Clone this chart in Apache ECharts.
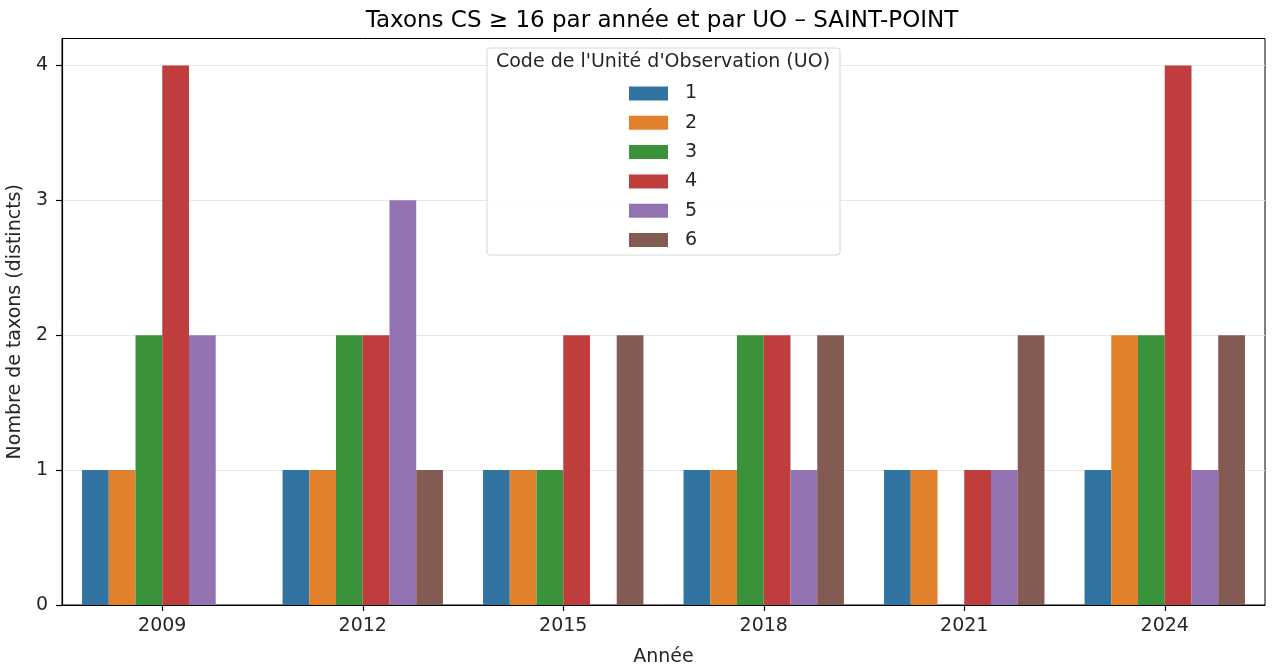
<!DOCTYPE html>
<html>
<head>
<meta charset="utf-8">
<script src="https://cdn.jsdelivr.net/npm/echarts@6/dist/echarts.min.js"></script>
<style>
  html, body { margin: 0; padding: 0; background: #fff; }
  #charts { width: 1279px; height: 669px; }
</style>
</head>
<body>
<div id="charts"></div>
<script>
// données
var years = ["2009", "2012", "2015", "2018", "2021", "2024"];
var uoCodes = ["1", "2", "3", "4", "5", "6"];
var uo1 = [1, 1, 1, 1, 1, 1];
var uo2 = [1, 1, 1, 1, 1, 2];
var uo3 = [2, 2, 1, 2, null, 2];
var uo4 = [4, 2, 2, 2, 1, 4];
var uo5 = [2, 3, null, 1, 1, 1];
var uo6 = [null, 1, 2, 2, 2, 2];
var yTicks = [0, 1, 2, 3, 4];

var colorList = ["#3274a1", "#e1812c", "#3a923a", "#c03d3e", "#9372b2", "#845b53"];
var font = "DejaVu Sans";

var seriesData = [uo1, uo2, uo3, uo4, uo5, uo6];
var series = uoCodes.map(function (code, i) {
  return {
    name: code,
    type: "bar",
    barGap: 0,
    barCategoryGap: "20%",
    itemStyle: { color: colorList[i] },
    data: seriesData[i].map(function (v) { return v === null ? "-" : v; }),
  };
});

var myChart = echarts.init(document.getElementById("charts"));
myChart.setOption({
  animation: false,
  textStyle: { fontFamily: font },
  title: {
    text: "Taxons CS \u2265 16 par ann\u00e9e et par UO \u2013 SAINT-POINT",
    left: 657,
    top: 5,
    textAlign: "center",
    textStyle: { fontFamily: font, fontSize: 23, fontWeight: "normal", color: "#000" },
  },
  graphic: [
    {
      type: "rect",
      shape: { x: 487, y: 48, width: 353, height: 207, r: 3 },
      style: { fill: "rgba(255,255,255,0.85)", stroke: "#d6d6d6", lineWidth: 1 },
      z: 50,
    },
    {
      type: "text",
      x: 663,
      y: 62,
      style: {
        text: "Code de l'Unit\u00e9 d'Observation (UO)",
        font: "19px 'DejaVu Sans'",
        fill: "#262626",
        align: "center",
        verticalAlign: "middle",
      },
      z: 51,
    },
  ],
  legend: {
    data: uoCodes,
    orient: "vertical",
    left: 624,
    top: 79,
    itemWidth: 39,
    itemHeight: 14,
    itemGap: 10.3,
    icon: "rect",
    z: 60,
    textStyle: { fontFamily: font, fontSize: 19, lineHeight: 14, color: "#262626", padding: [0, 0, 0, 12] },
  },
  grid: {
    left: 62, right: 14, top: 38.5, bottom: 64,
    outerBoundsMode: "none",
    show: true, borderColor: "#000", borderWidth: 1,
  },
  xAxis: {
    type: "category",
    data: years,
    name: "Ann\u00e9e",
    nameLocation: "middle",
    nameGap: 43,
    nameTextStyle: { fontFamily: font, fontSize: 19, color: "#262626" },
    axisLine: { lineStyle: { color: "#000", width: 1.2 } },
    axisTick: { show: true, alignWithLabel: true, length: 6, lineStyle: { color: "#000", width: 1.2 } },
    axisLabel: { fontFamily: font, fontSize: 19, color: "#262626", margin: 12 },
  },
  yAxis: {
    type: "value",
    min: 0,
    max: 4.2,
    interval: 1,
    name: "Nombre de taxons (distincts)",
    nameLocation: "middle",
    nameGap: 33,
    nameTextStyle: { fontFamily: font, fontSize: 19, color: "#262626" },
    axisLine: { show: true, lineStyle: { color: "#000", width: 1.2 } },
    axisTick: { show: true, length: 6, lineStyle: { color: "#000", width: 1.2 }, customValues: yTicks },
    axisLabel: { fontFamily: font, fontSize: 19, color: "#262626", margin: 14, customValues: yTicks },
    splitLine: { show: true, lineStyle: { color: "#e8e8e8", width: 1 } },
  },
  series: series,
});
</script>
</body>
</html>
